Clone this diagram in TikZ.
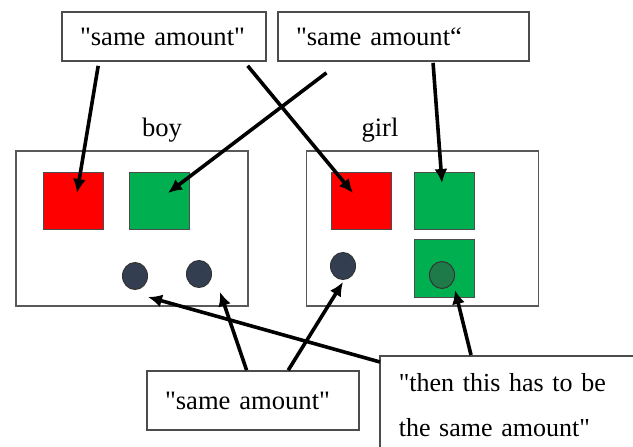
\documentclass[tikz,border=0pt]{standalone}
\usepackage{fontspec}
\setmainfont{Liberation Serif}
\usepackage{tikz}
\usetikzlibrary{calc,arrows.meta,shapes.geometric}
\definecolor{sqred}{HTML}{FF0000}
\definecolor{sqgreen}{HTML}{00B050}
\definecolor{dotblue}{HTML}{333F50}
\definecolor{dotgreen}{HTML}{1F7A4A}
\newcommand{\dq}{\textquotedbl}

\begin{document}
\begin{tikzpicture}[x=0.5pt,y=-0.5pt,
                 txt/.style={draw=black!70,line width=0.8pt,align=left,inner xsep=9pt,font=\fontsize{13.3}{16}\selectfont},
                 panel/.style={draw=black!65,line width=0.8pt,minimum width=116pt,minimum height=77.5pt},
                 sq/.style={draw=black!70,line width=0.5pt,minimum width=30pt,minimum height=28.5pt},
                 dot/.style={ellipse,draw=black!80,line width=0.5pt,fill=dotblue,minimum width=12.5pt,minimum height=13.5pt,inner sep=0pt},
                 arr/.style={-{Latex[length=7pt,width=6.5pt]},line width=1.8pt}]
                 \useasboundingbox (0,0) rectangle (633,446);
                 % the two children
                 \node[panel](boy)at(132,228.5){};
                 \node[panel](girl)at(422.5,228.5){};
                 \node[font=\fontsize{13.3}{16}\selectfont](lboy)at(162,130){boy};
                 \node[font=\fontsize{13.3}{16}\selectfont](lgirl)at(380,130){girl};
                 \node[sq,fill=sqred](rb)at(73,200.5){};
                 \node[sq,fill=sqgreen](gb)at(159.5,200.5){};
                 \node[sq,fill=sqred](rg)at(361.5,200.5){};
                 \node[sq,fill=sqgreen](gg)at(444,200.5){};
                 \node[sq,fill=sqgreen,minimum height=29pt](gg2)at(444,268){};
                 \node[dot](cb1)at(135,276){};
                 \node[dot](cb2)at(199,274){};
                 \node[dot](cg)at(343,266){};
                 \node[dot,fill=dotgreen](ci)at(442,275){};
                 % the remarks
                 \node[txt,text width=84pt,minimum height=24.5pt](t1)at(164,36.5){\dq same amount\dq};
                 \node[txt,text width=107.5pt,minimum height=24.5pt](t2)at(403.5,36.5){\dq same amount“};
                 \node[txt,text width=88pt,minimum height=29.5pt](t3)at(253,400.5){\dq same amount\dq};
                 \node[txt,text width=108pt,inner xsep=9.5pt,inner ysep=8.6pt,anchor=north west,font=\fontsize{13}{22.5}\selectfont](t4)at(379,355)
                   {\makebox[108pt][s]{\dq then this has to be}\\the same amount\dq};
                 % arrows
                 \draw[arr] ($(t1.south west)!0.18!(t1.south east)+(0,4)$) -- ($(rb)+(4,-7.5)$);
                 \draw[arr] ($(t1.south west)!0.907!(t1.south east)+(0,4)$) -- ($(rg)+(-8.5,-7.5)$);
                 \draw[arr] ($(t2.south west)!0.195!(t2.south east)+(0,11)$) -- ($(gb)+(8.5,-7.5)$);
                 \draw[arr] ($(t2.south west)!0.617!(t2.south east)+(0,1)$) -- ($(gg)+(-2,-17.5)$);
                 \draw[arr] ($(t3.north west)!0.47!(t3.north east)$) -- ($(cb2)+(21,18)$);
                 \draw[arr] ($(t3.north west)!0.665!(t3.north east)$) -- ($(cg)+(0,16)$);
                 \draw[arr] ($(t4.north west)+(1,7)$) -- ($(cb1)+(13,21)$);
                 \draw[arr] ($(t4.north west)!0.36!(t4.north east)$) -- ($(gg2)+(11,22)$);
               \end{tikzpicture}
\end{document}
